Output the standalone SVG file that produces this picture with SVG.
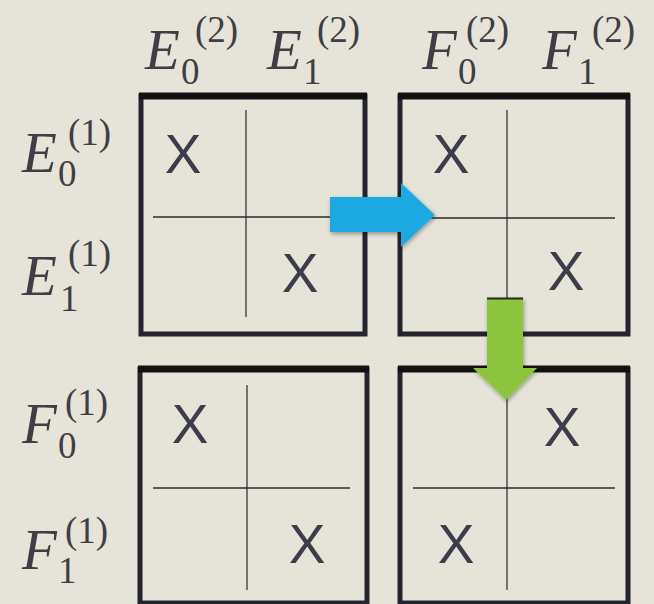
<svg xmlns="http://www.w3.org/2000/svg" width="654" height="604" viewBox="0 0 654 604">
<defs>
<style>
.box{fill:none;stroke:#24242c;stroke-width:5}
.top{stroke:#111;stroke-width:7}
.div{stroke:#2a2a30;stroke-width:1.6}
.vdiv{stroke:#55555c;stroke-width:1.6}
.x{font-family:"Liberation Sans",Arial,sans-serif;font-size:55px;fill:#3c3c4a;text-anchor:middle}
.m{font-family:"Liberation Serif","Times New Roman",serif;font-style:italic;font-size:57px;fill:#3e3e44}
.s{font-family:"Liberation Serif","Times New Roman",serif;font-size:37px;fill:#3e3e44}
</style>
<filter id="sh" x="-20%" y="-20%" width="150%" height="150%">
<feDropShadow dx="1" dy="2" stdDeviation="2" flood-color="#000" flood-opacity="0.35"/>
</filter>
</defs>
<rect x="0" y="0" width="654" height="604" fill="#e6e4d8"/>

<g id="labels">
<text class="m" x="145" y="69">E</text><text class="s" x="181" y="84">0</text><text class="s" x="195" y="42">(2)</text>
<text class="m" x="267" y="69">E</text><text class="s" x="303" y="84">1</text><text class="s" x="317" y="42">(2)</text>
<text class="m" x="422" y="69">F</text><text class="s" x="458" y="84">0</text><text class="s" x="466" y="42">(2)</text>
<text class="m" x="542" y="69">F</text><text class="s" x="578" y="84">1</text><text class="s" x="592" y="42">(2)</text>

<text class="m" x="22" y="172">E</text><text class="s" x="58" y="186">0</text><text class="s" x="68" y="145">(1)</text>
<text class="m" x="22" y="295">E</text><text class="s" x="60" y="311">1</text><text class="s" x="68" y="266">(1)</text>
<text class="m" x="22" y="443">F</text><text class="s" x="58" y="458">0</text><text class="s" x="65" y="415">(1)</text>
<text class="m" x="22" y="569">F</text><text class="s" x="58" y="583">1</text><text class="s" x="65" y="543">(1)</text>
</g>

<g id="boxA">
<rect class="box" x="141" y="96" width="224" height="238"/>
<line class="top" x1="139" y1="96" x2="367" y2="96"/>
<line class="vdiv" x1="246" y1="110" x2="246" y2="317"/>
<line class="div" x1="153" y1="217" x2="355" y2="217"/>
<text class="x" x="183" y="173">X</text>
<text class="x" x="300" y="292">X</text>
</g>

<g id="boxB">
<rect class="box" x="400" y="96" width="228" height="238"/>
<line class="top" x1="398" y1="96" x2="630" y2="96"/>
<line class="vdiv" x1="507" y1="110" x2="507" y2="317"/>
<line class="div" x1="413" y1="218" x2="615" y2="218"/>
<text class="x" x="451" y="173">X</text>
<text class="x" x="566" y="290">X</text>
</g>

<g id="boxC">
<rect class="box" x="140" y="369" width="227" height="234"/>
<line class="top" x1="138" y1="369" x2="369" y2="369"/>
<line class="vdiv" x1="247" y1="385" x2="247" y2="590"/>
<line class="div" x1="153" y1="488" x2="350" y2="488"/>
<text class="x" x="190" y="443">X</text>
<text class="x" x="307" y="563">X</text>
</g>

<g id="boxD">
<rect class="box" x="400" y="369" width="228" height="234"/>
<line class="top" x1="398" y1="369" x2="630" y2="369"/>
<line class="vdiv" x1="507" y1="385" x2="507" y2="590"/>
<line class="div" x1="413" y1="488" x2="615" y2="488"/>
<text class="x" x="562" y="446">X</text>
<text class="x" x="456" y="563">X</text>
</g>

<g id="connectors">
<polygon filter="url(#sh)" fill="#1ea9e1" points="330,197 401,197 401,183 435,215 401,247 401,232 330,232"/>
<polygon filter="url(#sh)" fill="#8cc53e" points="487,298 523,298 523,368 537,368 506,400 473,368 487,368"/>
<line x1="487" y1="298.5" x2="523" y2="298.5" stroke="#2a2a20" stroke-width="2"/>
</g>
</svg>
